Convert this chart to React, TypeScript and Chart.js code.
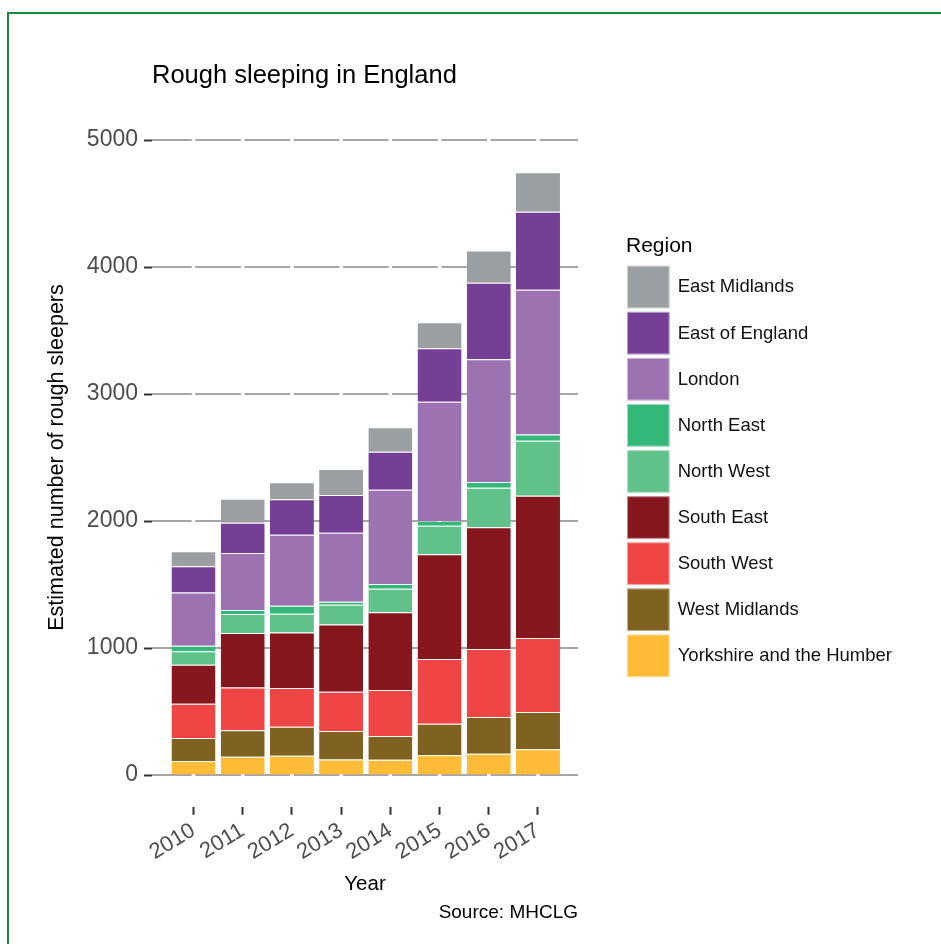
import React, { useEffect, useRef } from 'react';
import { Chart, registerables } from 'chart.js';

Chart.register(...registerables);

const FONT = "'Liberation Sans', Arial, Helvetica, sans-serif";

const YEARS = ['2010', '2011', '2012', '2013', '2014', '2015', '2016', '2017'];
const Y_TICKS = [0, 1000, 2000, 3000, 4000, 5000];

// Legend order (top of legend = top of stack)
const REGIONS = [
  'East Midlands',
  'East of England',
  'London',
  'North East',
  'North West',
  'South East',
  'South West',
  'West Midlands',
  'Yorkshire and the Humber',
];

const EAST_MIDLANDS = [118, 189, 134, 204, 192, 205, 254, 310];
const EAST_OF_ENGLAND = [205, 239, 279, 297, 299, 420, 604, 614];
const LONDON = [420, 449, 559, 543, 743, 940, 966, 1140];
const NORTH_EAST = [44, 31, 63, 24, 37, 37, 45, 50];
const NORTH_WEST = [105, 150, 147, 155, 186, 225, 312, 433];
const SOUTH_EAST = [308, 428, 438, 530, 612, 825, 958, 1120];
const SOUTH_WEST = [270, 338, 305, 310, 362, 509, 535, 583];
const WEST_MIDLANDS = [181, 208, 228, 223, 186, 249, 289, 294];
const YORKSHIRE = [110, 144, 152, 123, 121, 155, 168, 202];

const SERIES = [
  EAST_MIDLANDS,
  EAST_OF_ENGLAND,
  LONDON,
  NORTH_EAST,
  NORTH_WEST,
  SOUTH_EAST,
  SOUTH_WEST,
  WEST_MIDLANDS,
  YORKSHIRE,
];

const COLORS = [
  '#9c9fa1',
  '#763f96',
  '#9d72b0',
  '#33b87a',
  '#60c28a',
  '#86171f',
  '#ef4545',
  '#7f6120',
  '#fdbb38',
];

const gapGridPlugin = {
  id: 'gapGrid',
  beforeDatasetsDraw(chart: any) {
    const { ctx, chartArea, scales } = chart;
    const xs = scales.x;
    const ys = scales.y;
    const centers = YEARS.map((_, i) => xs.getPixelForValue(i));
    ctx.save();
    ctx.strokeStyle = '#a6a6a6';
    ctx.lineWidth = 2;
    ys.ticks.forEach((t: any) => {
      const py = Math.round(ys.getPixelForValue(t.value));
      ctx.beginPath();
      let start = chartArea.left;
      centers.forEach((c: number) => {
        ctx.moveTo(start, py);
        ctx.lineTo(c - 1.75, py);
        start = c + 1.75;
      });
      ctx.moveTo(start, py);
      ctx.lineTo(chartArea.right, py);
      ctx.stroke();
    });
    ctx.restore();
  },
};

const sideLegendPlugin = {
  id: 'sideLegend',
  afterDraw(chart: any) {
    const { ctx, chartArea } = chart;
    const left = chartArea.right + 49;
    const cy = (chartArea.top + chartArea.bottom) / 2;
    ctx.save();
    ctx.textBaseline = 'middle';
    ctx.textAlign = 'left';
    ctx.fillStyle = '#000000';
    ctx.font = `21px ${FONT}`;
    ctx.fillText('Region', left - 1, cy - 211.7);
    const datasets = chart.data.datasets.slice().reverse();
    const top0 = cy - 191.8;
    datasets.forEach((ds: any, i: number) => {
      const top = top0 + i * 46.1;
      ctx.fillStyle = ds.backgroundColor;
      ctx.fillRect(left, top, 42.6, 42.6);
      ctx.strokeStyle = 'rgba(255,255,255,0.5)';
      ctx.lineWidth = 1;
      ctx.strokeRect(left + 0.5, top + 0.5, 41.6, 41.6);
      ctx.fillStyle = '#111111';
      ctx.font = `18.5px ${FONT}`;
      ctx.fillText(ds.label, left + 50.7, top + 21.6);
    });
    ctx.restore();
  },
};

export default function App() {
  const canvasRef = useRef<HTMLCanvasElement | null>(null);

  useEffect(() => {
    const canvas = canvasRef.current;
    if (!canvas) return;

    const datasets = REGIONS.map((name, i) => ({
      label: name,
      data: SERIES[i].map((v, j) => ({ x: j, y: v })),
      backgroundColor: COLORS[i],
      borderColor: 'rgba(255,255,255,0.28)',
      borderWidth: { top: 1, left: 0, right: 0, bottom: 0 },
      borderSkipped: false,
      barPercentage: 0.894,
      categoryPercentage: 1,
    })).reverse();

    const chart = new Chart(canvas, {
      type: 'bar',
      data: { datasets },
      plugins: [gapGridPlugin, sideLegendPlugin],
      options: {
        responsive: false,
        animation: false,
        events: [],
        layout: { padding: { left: 0, right: 363, top: 0, bottom: 0 } },
        plugins: {
          legend: { display: false },
          tooltip: { enabled: false },
          title: {
            display: true,
            text: 'Rough sleeping in England',
            align: 'start',
            fullSize: false,
            color: '#000000',
            font: { family: FONT, size: 25.5, weight: 'normal' },
            padding: { top: 60.7, bottom: 17 },
          },
          subtitle: {
            display: true,
            text: 'Source: MHCLG',
            position: 'bottom',
            align: 'end',
            fullSize: false,
            color: '#000000',
            font: { family: FONT, size: 19, weight: 'normal' },
            padding: { top: 0, bottom: 19.9 },
          },
        },
        scales: {
          x: {
            type: 'linear',
            stacked: true,
            offset: false,
            min: -0.843,
            max: 7.813,
            afterBuildTicks: (s: any) => {
              s.ticks = YEARS.map((_, i) => ({ value: i }));
            },
            afterFit: (s: any) => {
              s.height = 94.55;
            },
            grid: {
              offset: false,
              drawOnChartArea: false,
              drawTicks: true,
              tickLength: 8,
              tickColor: '#333333',
              tickWidth: 2,
            },
            border: { display: false },
            ticks: {
              autoSkip: false,
              minRotation: 31,
              maxRotation: 31,
              padding: 3,
              color: '#4d4d4d',
              font: { family: FONT, size: 22 },
              callback: (v: any) => (YEARS[v] !== undefined ? YEARS[v] : ''),
            },
            title: {
              display: true,
              text: 'Year',
              color: '#000000',
              font: { family: FONT, size: 20.5 },
              padding: { top: 0, bottom: 5 },
            },
          },
          y: {
            type: 'linear',
            stacked: true,
            min: -250,
            max: 5250,
            afterBuildTicks: (s: any) => {
              s.ticks = Y_TICKS.map((v) => ({ value: v }));
            },
            afterFit: (s: any) => {
              s.width = 152;
            },
            grid: {
              drawOnChartArea: false,
              drawTicks: true,
              tickLength: 8,
              tickColor: '#333333',
              tickWidth: 2,
            },
            border: { display: false },
            ticks: {
              autoSkip: false,
              padding: 6,
              color: '#4d4d4d',
              font: { family: FONT, size: 23 },
              callback: (v: any) => String(v),
            },
            title: {
              display: true,
              text: 'Estimated number of rough sleepers',
              color: '#000000',
              font: { family: FONT, size: 21.5 },
              padding: { top: 44, bottom: 0 },
            },
          },
        },
      } as any,
    });

    return () => {
      chart.destroy();
    };
  }, []);

  return (
    <div>
      <div
        style={{
          position: 'fixed',
          left: 7,
          top: 12,
          width: 934,
          height: 932,
          borderTop: '2px solid #178a3f',
          borderLeft: '2px solid #178a3f',
          boxSizing: 'border-box',
        }}
      />
      <canvas
        ref={canvasRef}
        width={941}
        height={944}
        style={{ position: 'fixed', left: 0, top: 0, display: 'block' }}
      />
    </div>
  );
}
